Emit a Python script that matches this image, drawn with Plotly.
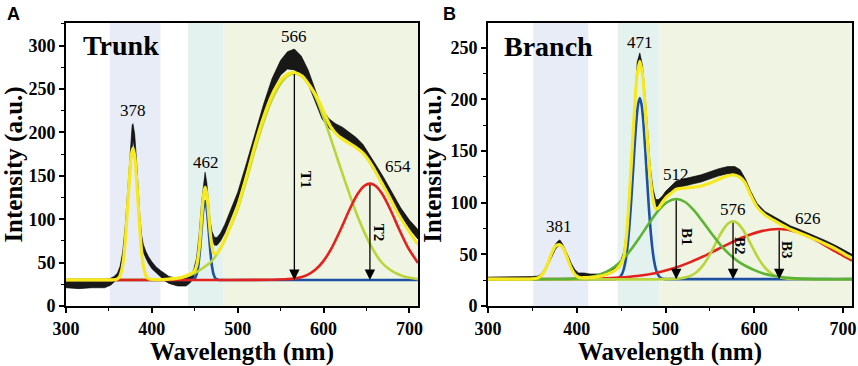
import plotly.graph_objects as go

# ---------------- Panel A (Trunk) data ----------------
A_black_x = [300,315,330,345,352,356,360,363,366,369,372,375,377,378,380,382,384,386,388,390,393,396,400,405,410,415,420,430,440,445,449,452,455,458,460,462,464,466,468,470,473,476,480,485,490,500,510,520,530,540,550,558,566,574,582,590,598,606,614,622,630,638,646,654,662,670,680,690,700,710]
A_black_lo = [21,20,21,21,24,28,31,36,50,75,115,160,188,192,180,150,118,92,72,62,55,49,43,38,33,29,26,23,23,27,34,45,70,105,128,140,130,108,88,77,70,70,75,84,96,121,153,188,219,248,266,273,272,267,256,236,216,205,200,196,190,184,176,164,151,137,119,103,89,77]
A_black_hi = [29,29,30,30,32,34,38,46,62,92,135,185,208,210,198,170,133,104,82,71,63,57,51,45,41,37,34,32,32,35,43,55,82,120,140,154,142,120,98,86,79,79,84,94,106,131,164,199,232,262,283,293,296,288,272,250,228,216,210,206,200,194,186,174,161,148,130,113,99,88]

A_fit_x = [300,340,356,359,362,364,366,368,370,372,374,376,378,380,382,384,386,388,390,392,394,397,400,420,435,445,450,452,454,456,458,460,462,464,466,468,470,472,476,482,491,500,511,520,530,540,550,558,566,575,585,592,600,608,617,627,637,647,657,667,677,687,697,705,710]
A_fit_y = [30,30,30.2,30.8,33,38,47,63,88,118,149,173,182,173,149,118,88,63,47,38,33,31,30.5,31,33,37,41,46,57,76,102,126,137,129,108,85,69,61,61,71,91,115,152,185,217,243,260,267,269,265,252,241,224,207,196,189,183,175,161,143,125,106,90,78,71]

A_blue_x = [300,440,447,450,452,454,456,458,460,462,464,466,468,470,472,474,477,480,600,710]
A_blue_y = [30,30,30.2,31.8,36.1,46.1,64.4,89,111.7,121,111.7,89,64.4,46.1,36.1,31.8,30.2,30,30,30]

A_green_x = [300,360,400,420,440,450,460,470,476,485,491,500,511,520,530,540,550,558,566,574,583,592,600,608,617,627,637,647,657,667,677,687,697,710]
A_green_y = [30,30,30.3,31,34,38,44,52,60,76,90,112,148,180,212,238,256,265,268,265,255,238,217,194,167,138,110,86,66,51,42,36.5,33,31]

A_red_x = [300,450,540,556,566,580,590,600,610,620,630,640,648,654,660,668,678,688,698,710]
A_red_y = [30,30,30.2,30.8,31.5,35.3,41.4,52,67.9,88.4,110.6,129.5,138.8,141,138.8,129.5,110.6,88.4,67.9,49.5]

A_peak_labels = ["378", "462", "566", "654"]
A_peak_label_x = [378, 463, 565, 687]
A_peak_label_y = [225, 165, 310, 161]
A_arrow_names = ["T1", "T2"]
A_arrow_x = [566, 654]
A_arrow_top = [269, 141]
A_arrow_base = 30
A_arrow_label_x = [579, 665]
A_arrow_label_y = [146, 84]
A_bands = [(351, 410), (442, 483), (483, 710)]

# ---------------- Panel B (Branch) data ----------------
B_black_x = [300,330,350,356,360,364,368,372,376,379,381,384,387,390,394,398,402,408,415,425,435,442,447,450,453,456,459,462,465,468,471,474,477,480,483,486,489,492,496,500,506,512,520,530,540,550,560,570,578,584,590,596,603,612,622,632,641,650,660,670,680,693,702,710]
B_black_lo = [25,25,25,26,28,33,40,48,55,58,59,56,50,44,36,30,28,27,27,28,30,33,36,40,48,65,100,145,192,228,238,226,195,156,125,106,96,96,100,105,110,114,116,118,120,123,126,128,128,125,118,107,96.5,88.5,83.5,78.5,74.5,71.5,68,64.5,60.5,55,50.5,47]
B_black_hi = [28,28,28.5,29,31,36,44,52,60,63,64,60,55,49,41,35,32,32,31,31,34,37,40,45,53,72,109,154,200,236,245,233,203,165,133,113,103,103,106,111,116,121,123,125,127,130,133,135,135,132,123,111,99.5,91.5,86.5,81.5,77.5,74.5,71,67.5,63.5,58,53.5,50]

B_fit_x = [300,350,356,360,363,366,369,372,375,378,381,384,387,390,393,396,399,403,410,420,430,440,445,450,453,456,459,462,465,468,471,474,477,480,483,486,489,492,496,500,506,512,525,539,550,558,568,576,583,589,595,603,612,622,632,641,650,660,670,680,693,702,710]
B_fit_y = [26,26.3,27.2,29.5,32.9,38.2,44.8,51.7,57,59,59.3,57,51.7,44.8,38.2,32.9,29.5,27.5,27.5,28,29.5,33,36,41,48,68,104,146,190,224,237,224,192,155,122,103,94,95,100,104.5,109,113,114.5,116,119,122,125.5,127,125,120,109,96,88,83,78,74,71,67.5,64,60,54.5,50,46.5]

B_blue_x = [300,440,444,448,451,453,455,457,459,461,463,465,467,469,471,473,475,477,479,481,483,485,487,489,491,494,498,502,710]
B_blue_y = [26,26,26.2,27.6,31,35.8,44,56.7,74.6,98,125,153,177.8,194.9,201.4,194.9,177.8,153,125,98,74.6,56.7,44,35.8,31,27.6,26.2,26,26]

B_g1_x = [300,380,397,412,422,432,442,452,462,472,482,492,502,512,522,532,542,552,562,572,582,592,602,612,627,642,660,680,710]
B_g1_y = [26,26.1,26.5,27.6,29.4,32.6,37.7,45.4,55.6,67.9,80.8,92.5,100.7,103.6,100.7,92.5,81.5,70,59,50,43,38,34,31,28.5,27,26.3,26,26]

B_g2_x = [300,500,516,526,531,536,541,546,551,556,561,566,571,576,581,586,591,596,601,606,611,616,621,626,636,646,710]
B_g2_y = [26,26,26.6,28.5,30.5,33.6,38.1,44.2,51.6,60,68.3,75.4,80.3,82,80.3,75.4,68.3,60,51.6,44.2,38.1,33.6,30.5,28.5,26.6,26.1,26]

B_red_x = [300,398,428,448,468,488,508,528,548,568,588,608,628,648,668,688,710]
B_red_y = [26,26.1,26.6,27.5,29,31.8,36.2,42.5,50.3,58.9,66.8,72.5,74.5,71.7,64.2,54.4,44]

B_peak_labels = ["381", "471", "512", "576", "626"]
B_peak_label_x = [380, 471, 512, 576, 660]
B_peak_label_y = [77, 255, 127, 93, 85]
B_arrow_names = ["B1", "B2", "B3"]
B_arrow_x = [512, 576, 628]
B_arrow_top = [103.6, 82, 74.5]
B_arrow_base = 26
B_arrow_label_x = [524, 584, 637]
B_arrow_label_y = [67, 58, 54]
B_bands = [(351, 413), (446, 493), (493, 710)]

# ---------------- styling ----------------
SERIF = "Liberation Serif"
YELLOW = "#f6ea1f"
BLUE = "#1d4fa3"
RED = "#e4221d"
LGREEN = "#b9d53a"
GREEN = "#5bb431"
BAND_COLORS = ["#e8ecf7", "#e3f1ef", "#eff5e2"]

fig = go.Figure()


def add_band(xs, lo, hi, xa, ya):
    fig.add_trace(go.Scatter(x=xs, y=lo, mode="lines", line=dict(color="black", width=0.6),
                             xaxis=xa, yaxis=ya, showlegend=False, hoverinfo="skip"))
    fig.add_trace(go.Scatter(x=xs, y=hi, mode="lines", line=dict(color="black", width=0.6),
                             fill="tonexty", fillcolor="rgba(0,0,0,0.9)",
                             xaxis=xa, yaxis=ya, showlegend=False, hoverinfo="skip"))


def add_line(xs, ys, color, width, xa, ya):
    fig.add_trace(go.Scatter(x=xs, y=ys, mode="lines",
                             line=dict(color=color, width=width, shape="spline", smoothing=0.8),
                             xaxis=xa, yaxis=ya, showlegend=False, hoverinfo="skip"))


# Panel A traces
add_band(A_black_x, A_black_lo, A_black_hi, "x", "y")
add_line(A_blue_x, A_blue_y, BLUE, 2.6, "x", "y")
add_line(A_green_x, A_green_y, LGREEN, 2.6, "x", "y")
add_line(A_red_x, A_red_y, RED, 2.6, "x", "y")
add_line(A_fit_x, A_fit_y, YELLOW, 3.2, "x", "y")

# Panel B traces
add_band(B_black_x, B_black_lo, B_black_hi, "x2", "y2")
add_line(B_blue_x, B_blue_y, BLUE, 2.6, "x2", "y2")
add_line(B_red_x, B_red_y, RED, 2.6, "x2", "y2")
add_line(B_g2_x, B_g2_y, LGREEN, 2.6, "x2", "y2")
add_line(B_g1_x, B_g1_y, GREEN, 2.6, "x2", "y2")
add_line(B_fit_x, B_fit_y, YELLOW, 3.2, "x2", "y2")

shapes = []
for bands, xr, yr in [(A_bands, "x", "y domain"), (B_bands, "x2", "y2 domain")]:
    for (b0, b1), c in zip(bands, BAND_COLORS):
        shapes.append(dict(type="rect", xref=xr, yref=yr, x0=b0, x1=b1, y0=0, y1=1,
                           fillcolor=c, line=dict(width=0), layer="below"))

annotations = []
for txt, x, y in zip(A_peak_labels, A_peak_label_x, A_peak_label_y):
    annotations.append(dict(x=x, y=y, xref="x", yref="y", text=txt, showarrow=False,
                            font=dict(family=SERIF, size=17, color="black")))
for txt, x, y in zip(B_peak_labels, B_peak_label_x, B_peak_label_y):
    annotations.append(dict(x=x, y=y, xref="x2", yref="y2", text=txt, showarrow=False,
                            font=dict(family=SERIF, size=17, color="black")))

for names, xs, tops, base, lx, ly, xr, yr in [
        (A_arrow_names, A_arrow_x, A_arrow_top, A_arrow_base, A_arrow_label_x, A_arrow_label_y, "x", "y"),
        (B_arrow_names, B_arrow_x, B_arrow_top, B_arrow_base, B_arrow_label_x, B_arrow_label_y, "x2", "y2")]:
    for n, x, t, tx, ty in zip(names, xs, tops, lx, ly):
        annotations.append(dict(x=x, y=base, ax=x, ay=t, xref=xr, yref=yr, axref=xr, ayref=yr,
                                text="", showarrow=True, arrowhead=2, arrowsize=1.6,
                                arrowwidth=1.3, arrowcolor="black", standoff=0))
        annotations.append(dict(x=tx, y=ty, xref=xr, yref=yr, text=n, showarrow=False,
                                textangle=90,
                                font=dict(family=SERIF, size=15, color="black", weight="bold")))

annotations += [
    dict(x=5 / 858, y=1 - 14 / 366, xref="paper", yref="paper", text="A", showarrow=False,
         xanchor="left", yanchor="middle",
         font=dict(family="Liberation Sans", size=18, color="black", weight="bold")),
    dict(x=441 / 858, y=1 - 14 / 366, xref="paper", yref="paper", text="B", showarrow=False,
         xanchor="left", yanchor="middle",
         font=dict(family="Liberation Sans", size=18, color="black", weight="bold")),
    dict(x=81 / 858, y=1 - 45 / 366, xref="paper", yref="paper", text="Trunk", showarrow=False,
         xanchor="left", yanchor="middle",
         font=dict(family=SERIF, size=28, color="black", weight="bold")),
    dict(x=502 / 858, y=1 - 46 / 366, xref="paper", yref="paper", text="Branch", showarrow=False,
         xanchor="left", yanchor="middle",
         font=dict(family=SERIF, size=28, color="black", weight="bold")),
]

tickfont = dict(family=SERIF, size=18, color="black", weight="bold")
titlefont = dict(family=SERIF, size=25, color="black", weight="bold")


def xax(domain, anchor):
    return dict(domain=domain, anchor=anchor, range=[300, 710], tickmode="linear", tick0=300, dtick=100,
                showline=True, linecolor="black", linewidth=2, mirror=True,
                ticks="outside", ticklen=5, tickwidth=1.6, tickcolor="black",
                minor=dict(ticks="outside", ticklen=3, tickwidth=1.2, dtick=50, tickcolor="black"),
                showgrid=False, zeroline=False, tickfont=tickfont,
                title=dict(text="Wavelength (nm)", font=titlefont, standoff=5), automargin=False)


def yax(domain, anchor, top):
    return dict(domain=domain, anchor=anchor, range=[0, top], tickmode="linear", tick0=0, dtick=50,
                showline=True, linecolor="black", linewidth=2, mirror=True,
                ticks="outside", ticklen=5, tickwidth=1.6, tickcolor="black",
                minor=dict(ticks="outside", ticklen=3, tickwidth=1.2, dtick=25, tickcolor="black"),
                showgrid=False, zeroline=False, tickfont=tickfont,
                title=dict(text="Intensity (a.u.)", font=titlefont, standoff=2), automargin=False)


ydom = [60 / 366, 343 / 366]
fig.update_layout(
    width=858, height=366,
    margin=dict(l=0, r=0, t=0, b=0),
    paper_bgcolor="white", plot_bgcolor="white",
    xaxis=xax([66 / 858, 418 / 858], "y"),
    yaxis=yax(ydom, "x", 326),
    xaxis2=xax([488 / 858, 852 / 858], "y2"),
    yaxis2=yax(ydom, "x2", 274),
    shapes=shapes,
    annotations=annotations,
    showlegend=False,
)

fig.write_html("out.html", config={"displayModeBar": False},
               post_script="document.body.style.margin='0';document.body.style.padding='0';"
                           "document.body.style.overflow='hidden';")
